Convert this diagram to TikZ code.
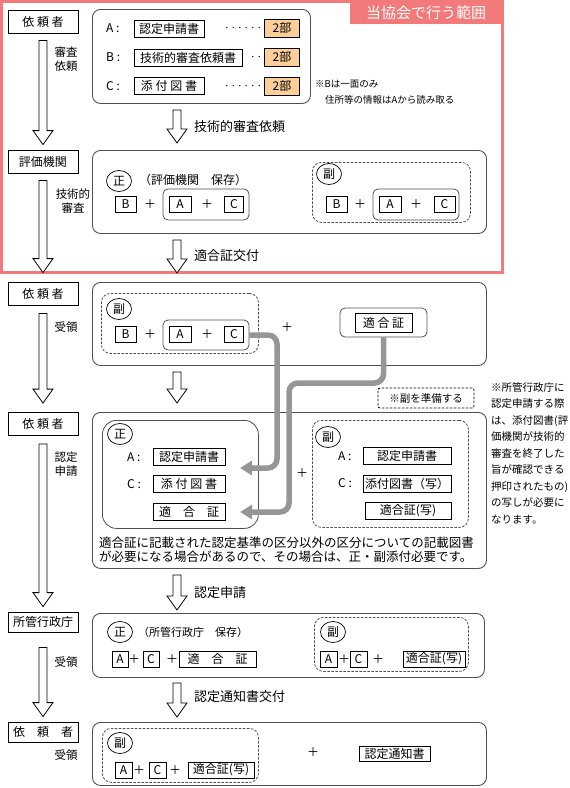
\documentclass[tikz,border=0pt]{standalone}
\usepackage{fontspec}
\setmainfont{Noto Sans CJK JP}
\usetikzlibrary{arrows.meta,shapes.geometric,calc}
\definecolor{rangepink}{RGB}{242,122,122}
\definecolor{peach}{RGB}{252,206,152}
\definecolor{boxline}{RGB}{80,80,80}
\definecolor{pipegray}{RGB}{150,150,150}
\newcommand\hollowdown[2]{%
  \draw[hollow] let \p1=(#1), \p2=(#2) in
    (\x1-4pt,\y1) -- (\x1-4pt,\y2+14pt) -- (\x1-10pt,\y2+14pt) -- (\x1,\y2)
    -- (\x1+10pt,\y2+14pt) -- (\x1+4pt,\y2+14pt) -- (\x1+4pt,\y1) -- cycle;}
\begin{document}
\begin{tikzpicture}[x=1pt,y=-1pt,
  every node/.style={font=\fontsize{12}{14}\selectfont},
  lbox/.style={draw,line width=.8pt,minimum width=70pt,minimum height=23pt,inner sep=0pt},
  mainbox/.style={draw=boxline,line width=.9pt,rounded corners=8pt,anchor=north west,inner sep=0pt},
  copybox/.style={draw=boxline,line width=.8pt,dash pattern=on 2.5pt off 1.5pt,rounded corners=9pt,anchor=north west,inner sep=0pt},
  group/.style={draw=boxline,line width=.8pt,rounded corners=5pt,inner sep=0pt},
  doc/.style={draw,line width=.7pt,inner sep=0pt,minimum height=17pt},
  sq/.style={doc,minimum width=18pt,minimum height=16pt},
  part/.style={doc,fill=peach,minimum width=35pt,minimum height=18pt},
  seal/.style={ellipse,draw,line width=.7pt,minimum width=25pt,minimum height=21pt,inner sep=0pt},
  dots/.style={inner sep=0pt,font=\fontsize{6.5}{7}\selectfont},
  note/.style={inner sep=0pt,anchor=west,font=\fontsize{9.5}{11}\selectfont},
  side/.style={inner sep=0pt,align=center,font=\fontsize{11.5}{14}\selectfont},
  flowlabel/.style={inner sep=0pt,anchor=west,font=\fontsize{13}{15}\selectfont},
  hollow/.style={draw,line width=.8pt,fill=white},
  pipe/.style={draw=pipegray,line width=5.5pt,rounded corners=9pt,-{Triangle[length=12pt,width=14pt]}}]
\useasboundingbox (0,0) rectangle (570,788);
\draw[rangepink,line width=2.5pt] (1.25,1.25) rectangle (502.5,272.5);
\fill[rangepink] (350,0) rectangle (503.75,24);
\node[white,font=\fontsize{15}{17}\selectfont] (range) at (426,13) {当協会で行う範囲};

\node[lbox] (req) at (43,21.5) {依 頼 者};
\node[side] (lab1) at (66,59) {審査\\依頼};
\node[mainbox,minimum width=218pt,minimum height=94pt] (m1) at (92,9) {};
\node[anchor=west,inner sep=0pt] (la) at (106,28.5) {A :};
\node[doc,minimum width=70pt] (dA) at (169,28.5) {認定申請書};
\node[dots] (da) at (243,29) {・・・・・・};
\node[part] (pA) at (282,28) {2部};
\node[anchor=west,inner sep=0pt] (lb) at (106,57.5) {B :};
\node[doc,minimum width=108pt] (dB) at (188,57.5) {技術的審査依頼書};
\node[dots] (db) at (256,58) {・・};
\node[part] (pB) at (282,57) {2部};
\node[anchor=west,inner sep=0pt] (lc) at (106,86) {C :};
\node[doc,minimum width=70pt] (dC) at (169,86) {添 付 図 書};
\node[dots] (dc) at (243,87) {・・・・・・};
\node[part] (pC) at (282,86) {2部};
\node[note] (nb1) at (315,84) {※Bは一面のみ};
\node[note] (nb2) at (325,100) {住所等の情報はAから読み取る};
\node[flowlabel] (f1) at (194,127) {技術的審査依頼};

\node[lbox] (eval) at (43,161.5) {評価機関};
\node[side] (lab2) at (73,201) {技術的\\審査};
\node[mainbox,minimum width=394pt,minimum height=83pt] (m2) at (92,150) {};
\node[seal] (s2a) at (119,181) {正};
\node[anchor=west,inner sep=0pt] (keep2) at (139,180) {（評価機関　保存）};
\node[sq,minimum width=21pt] (b2a) at (125.5,204) {B};
\node (p2a) at (150,204) {＋};
\node[group,minimum width=86pt,minimum height=31pt] (g2a) at (206,204.5) {};
\node[sq,minimum width=22pt] (a2a) at (180,204) {A};
\node (p2b) at (207,204) {＋};
\node[sq,minimum width=19pt] (c2a) at (234,204) {C};
\node[copybox,minimum width=158pt,minimum height=60pt] (c2) at (312,162) {};
\node[seal] (s2b) at (329,174) {副};
\node[sq,minimum width=21pt] (b2b) at (336.5,204) {B};
\node (p2c) at (360,204) {＋};
\node[group,minimum width=86pt,minimum height=31pt] (g2b) at (416,204.5) {};
\node[sq,minimum width=22pt] (a2b) at (390,204) {A};
\node (p2d) at (416,204) {＋};
\node[sq,minimum width=21pt] (c2b) at (444.5,204) {C};
\node[flowlabel] (f2) at (194,256) {適合証交付};

\node[lbox] (req2) at (43,293.5) {依 頼 者};
\node[side] (lab3) at (66,327.5) {受領};
\node[mainbox,minimum width=394pt,minimum height=83pt] (m3) at (92,282) {};
\node[copybox,minimum width=157pt,minimum height=60pt] (c3) at (101,293) {};
\node[seal] (s3) at (119,309) {副};
\node[sq,minimum width=21pt] (b3) at (125.5,334) {B};
\node (p3a) at (150,334) {＋};
\node[group,minimum width=86pt,minimum height=30pt] (g3) at (206,335) {};
\node[sq,minimum width=22pt] (a3) at (180,334) {A};
\node (p3b) at (207,334) {＋};
\node[sq,minimum width=19pt] (c3b) at (234,334) {C};
\node (p3c) at (287,327) {＋};
\node[group,minimum width=87pt,minimum height=29pt] (tk) at (383.5,322.5) {};
\node[doc,minimum width=57pt,minimum height=19pt] (tk3) at (383.5,322.5) {適 合 証};
\node[draw,dash pattern=on 2.5pt off 1.5pt,line width=.8pt,rounded corners=2pt,minimum width=96pt,minimum height=20pt,inner sep=0pt,font=\fontsize{10.5}{12}\selectfont] (prep) at (426,398) {※副を準備する};
\node[anchor=north west,inner sep=0pt,align=left,font=\fontsize{10.5}{16.5}\selectfont] (gov) at (491,382) {※所管行政庁に\\認定申請する際\\は、添付図書(評\\価機関が技術的\\審査を終了した\\旨が確認できる\\押印されたもの)\\の写しが必要に\\なります。};

\node[lbox] (req3) at (43,424) {依 頼 者};
\node[side] (lab4) at (66,464) {認定\\申請};
\node[mainbox,minimum width=394pt,minimum height=156pt] (m4) at (92,412) {};
\node[draw=boxline,line width=.8pt,rounded corners=14pt,anchor=north west,inner sep=0pt,minimum width=156pt,minimum height=108pt] (o4) at (102,420) {};
\node[seal] (s4a) at (120,434) {正};
\node[anchor=west,inner sep=0pt] (la4) at (127,457) {A :};
\node[doc,minimum width=72pt] (a4) at (189,456.5) {認定申請書};
\node[anchor=west,inner sep=0pt] (lc4) at (127,484) {C :};
\node[doc,minimum width=72pt] (c4a) at (189,484) {添 付 図 書};
\node[doc,minimum width=72pt] (t4) at (189,512) {適　合　証};
\node (p4) at (302,473) {＋};
\node[copybox,minimum width=156pt,minimum height=107pt] (c4) at (312,420) {};
\node[seal] (s4b) at (328,437) {副};
\node[anchor=west,inner sep=0pt] (la4b) at (338,456) {A :};
\node[doc,minimum width=88pt] (a4b) at (407,456) {認定申請書};
\node[anchor=west,inner sep=0pt] (lc4b) at (338,483.5) {C :};
\node[doc,minimum width=88pt] (c4b) at (407,483.5) {添付図書（写）};
\node[doc,minimum width=86pt] (t4b) at (408,511) {適合証(写)};
\node[anchor=west,inner sep=0pt,align=left,font=\fontsize{12.5}{14}\selectfont] (rem) at (99,550) {適合証に記載された認定基準の区分以外の区分についての記載図書\\が必要になる場合があるので、その場合は、正・副添付必要です。};
\node[flowlabel] (f4) at (194,593) {認定申請};

\node[lbox,minimum height=20pt] (gov5) at (43,622) {所管行政庁};
\node[side] (lab5) at (66,662) {受領};
\node[mainbox,minimum width=392pt,minimum height=64pt] (m5) at (92,613) {};
\node[seal] (s5a) at (120,632) {正};
\node[anchor=west,inner sep=0pt,font=\fontsize{11}{13}\selectfont] (keep5) at (138,632) {（所管行政庁　保存）};
\node[sq,minimum width=16pt] (a5) at (120,659) {A};
\node (p5a) at (134,659) {＋};
\node[sq,minimum width=16pt] (c5a) at (151,659) {C};
\node (p5b) at (172,659) {＋};
\node[sq,minimum width=77pt] (t5) at (217.5,659) {適　合　証};
\node[copybox,minimum width=154pt,minimum height=54pt] (c5) at (314,617) {};
\node[seal] (s5b) at (333,632) {副};
\node[sq,minimum width=17pt] (a5b) at (328.5,659) {A};
\node (p5c) at (344,659) {＋};
\node[sq,minimum width=17pt] (c5b) at (358.5,659) {C};
\node (p5d) at (378,659) {＋};
\node[sq,minimum width=62pt] (t5b) at (434,659) {適合証(写)};
\node[flowlabel] (f5) at (194,697) {認定通知書交付};

\node[lbox,minimum height=20pt] (req4) at (43,732) {依　頼　者};
\node[side] (lab6) at (66,755) {受領};
\node[mainbox,minimum width=394pt,minimum height=63pt] (m6) at (92,722) {};
\node[copybox,minimum width=156pt,minimum height=54pt] (c6) at (102,728) {};
\node[seal] (s6) at (120,743) {副};
\node[sq,minimum width=17pt] (a6) at (123.5,770) {A};
\node (p6a) at (139,770) {＋};
\node[sq,minimum width=17pt] (c6a) at (157.5,770) {C};
\node (p6b) at (175,770) {＋};
\node[sq,minimum width=66pt] (t6) at (221,770) {適合証(写)};
\node (p6c) at (313,752) {＋};
\node[doc,minimum width=71pt,minimum height=15pt] (notice) at (394.5,753.5) {認定通知書};

\hollowdown{[yshift=-7pt]req.south}{[yshift=5pt]eval.north}
\hollowdown{[yshift=-7pt]eval.south}{[yshift=9pt]req2.north}
\hollowdown{[yshift=-8pt]req2.south}{[yshift=9pt]req3.north}
\hollowdown{[yshift=-8pt]req3.south}{[yshift=5pt]gov5.north}
\hollowdown{[yshift=-15pt]gov5.south}{[yshift=5pt]req4.north}
\hollowdown{177,110}{177,143}
\hollowdown{177,240}{177,273}
\hollowdown{177,372}{177,403}
\hollowdown{177,575}{177,610}
\hollowdown{177,683}{177,717}

\coordinate (in1) at (240,468);
\coordinate (in2) at (240,512);
\draw[pipe] (g3.east) -| (277,440) |- (in1);
\draw[pipe] (tk.south) |- (289,383) |- (in2);
\end{tikzpicture}
\end{document}
